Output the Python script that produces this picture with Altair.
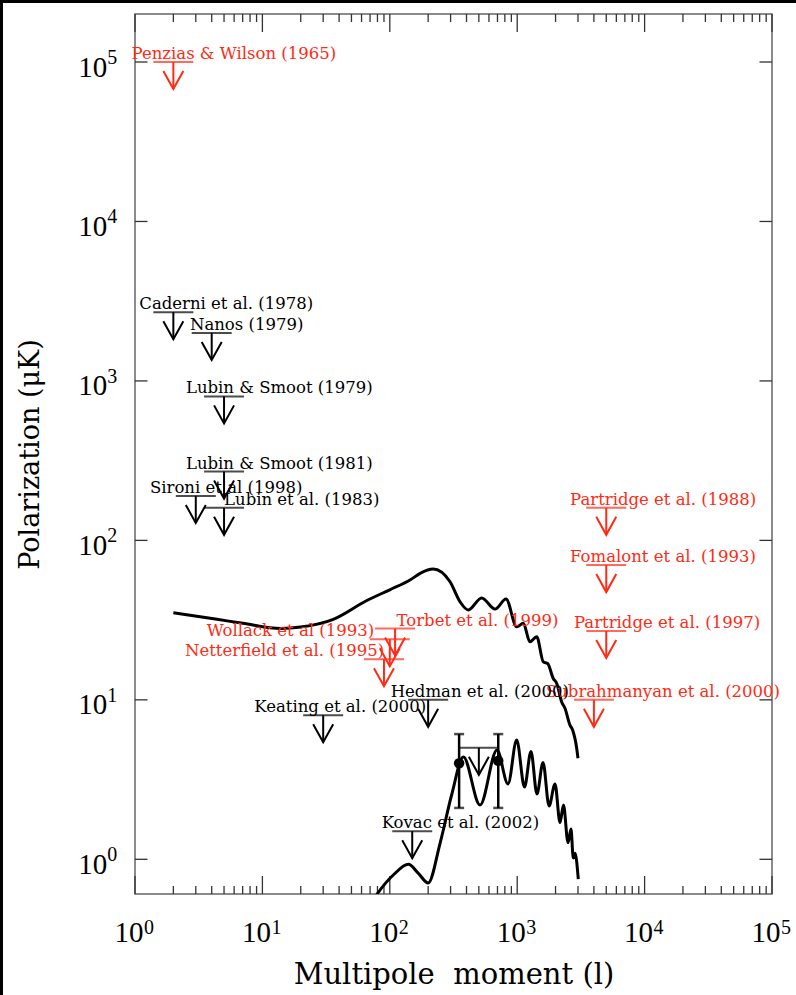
import altair as alt
import pandas as pd

# ---------------- data ----------------
# upper theoretical curve (multipole l, polarization uK)
tt_l = [2, 4.4, 7, 14, 20, 36, 66, 100, 144, 173, 219, 297, 356, 413, 526, 670, 817,
        991, 1117, 1259, 1422, 1603, 1734, 1919, 2042, 2234, 2371, 2595, 2723, 2931, 3000]
tt_v = [35.2, 32.0, 30.2, 28.0, 28.6, 32.0, 42.0, 49.0, 56.4, 62.1, 66.1, 55.0, 41.2, 36.6, 43.6, 37.1, 42.9,
        28.7, 30.2, 23.1, 24.9, 17.3, 16.9, 13.6, 12.7, 9.7, 8.85, 6.95, 6.47, 4.97, 4.3]

# lower theoretical curve
ee_l = [70, 80, 107, 140, 167, 200, 248, 306, 378, 511, 694, 847, 991, 1141, 1283, 1429,
        1595, 1778, 1981, 2168, 2308, 2506, 2644, 2755, 2843, 3017]
ee_v = [0.52, 0.61, 0.80, 0.93, 0.82, 0.71, 1.26, 2.54, 4.38, 2.19, 4.85, 2.97, 5.60, 2.84, 4.74, 2.57,
        4.05, 2.16, 2.97, 1.70, 2.19, 1.27, 1.55, 1.02, 1.09, 0.75]

# upper limits
ul_name = ["Penzias & Wilson (1965)", "Caderni et al. (1978)", "Nanos (1979)", "Lubin & Smoot (1979)",
           "Lubin & Smoot (1981)", "Sironi et al (1998)", "Lubin et al. (1983)", "Partridge et al. (1988)",
           "Fomalont et al. (1993)", "Partridge et al. (1997)", "Subrahmanyan et al. (2000)",
           "Torbet et al. (1999)", "Wollack et al (1993)", "Netterfield et al. (1995)",
           "Keating et al. (2000)", "Hedman et al. (2000)", "Kovac et al. (2002)", ""]
ul_l = [2, 2, 4, 5, 5, 3, 5, 5000, 5000, 5000, 4000, 110, 100, 90, 30, 200, 150, 500]
ul_v = [1e5, 2700, 2000, 800, 270, 190, 160, 160, 70, 27, 10, 28, 24, 18, 8, 10, 1.5, 5]
ul_label_l = [0.94, 1.08, 2.70, 2.51, 2.51, 1.31, 5.0, 2600, 2600, 2790, 1680, 113, 3.65, 2.47,
              8.64, 101.6, 86.4, 500]
ul_kind = ["red", "black", "black", "black", "black", "black", "black", "red", "red", "red", "red",
           "red", "red", "red", "black", "black", "black", "black"]

# detections (Kovac et al. 2002)
det_l = [350, 710]
det_v = [4.0, 4.15]
det_lo = [2.1, 2.1]
det_hi = [6.1, 6.1]

# axis ticks and tick-label exponents
decades = [1, 10, 100, 1000, 10000, 100000]
exponents = ["0", "1", "2", "3", "4", "5"]
minor_x = [m * d for d in [1, 10, 100, 1000, 10000] for m in range(2, 10)]

# ---------------- chart ----------------
W, H = 637, 880
RED = "#ff2b14"
SERIF = "DejaVu Serif"
NUMF = "Liberation Serif"
xs = alt.Scale(type="log", domain=[1, 100000], nice=False)
ys = alt.Scale(type="log", domain=[0.606, 2.0e5], nice=False)
kind_color = alt.Color("kind:N", scale=alt.Scale(domain=["red", "black"], range=[RED, "black"]), legend=None)

x_axis = alt.Axis(values=decades, labelExpr="'10'", title="Multipole\u00a0 moment (l)",
                  ticks=False, domain=False, grid=False, labelFont=NUMF, labelFontSize=29,
                  labelBaseline="alphabetic", labelPadding=47.5, labelOffset=-6.5,
                  labelColor="black", labelFlush=False, labelOverlap=False,
                  titleFont=SERIF, titleFontSize=29, titleFontWeight="normal", titleColor="black",
                  titleBaseline="alphabetic", titleX=W / 2, titleY=89)
y_axis = alt.Axis(values=decades, labelExpr="'10'", title="Polarization (\u03bcK)",
                  ticks=False, domain=False, grid=False, labelFont=NUMF, labelFontSize=29,
                  labelAlign="right", labelBaseline="alphabetic", labelPadding=28.3, labelOffset=14,
                  labelColor="black", labelFlush=False, labelOverlap=False,
                  titleFont=SERIF, titleFontSize=27, titleFontWeight="normal", titleColor="black",
                  titleBaseline="alphabetic", titleX=-96.5, titleY=H / 2)

one = pd.DataFrame({"a": [0]})
tt = pd.DataFrame({"l": tt_l, "v": tt_v})
ee = pd.DataFrame({"l": ee_l, "v": ee_v})
ul = pd.DataFrame({"name": ul_name, "l": ul_l, "v": ul_v, "lab": ul_label_l, "kind": ul_kind})
det = pd.DataFrame({"l": det_l, "v": det_v, "lo": det_lo, "hi": det_hi})
dec = pd.DataFrame({"t": decades, "e": exponents})
mnx = pd.DataFrame({"t": minor_x})

TICKC = "#333333"


def xq(field):
    return alt.X(field, type="quantitative", scale=xs, axis=x_axis)


def yq(field):
    return alt.Y(field, type="quantitative", scale=ys, axis=y_axis)


# black strips at top and left edges of the picture
strip_top = alt.Chart(one).mark_rect(color="black").encode(
    x=alt.value(-135), x2=alt.value(W + 24), y=alt.value(-14), y2=alt.value(-11))
strip_left = alt.Chart(one).mark_rect(color="black").encode(
    x=alt.value(-135), x2=alt.value(-132), y=alt.value(-14), y2=alt.value(H + 101))

# curves
tt_line = alt.Chart(tt).mark_line(color="black", strokeWidth=3, clip=True, interpolate="monotone").encode(
    x=xq("l"), y=yq("v"))
ee_line = alt.Chart(ee).mark_line(color="black", strokeWidth=3, clip=True, interpolate="monotone").encode(
    x=xq("l"), y=yq("v"))


# inward ticks
def xticks(df, y0, y1):
    return alt.Chart(df).mark_rule(color=TICKC, strokeWidth=1.3).encode(
        x=xq("t"), y=alt.value(y0), y2=alt.value(y1))


def yticks(df, x0, x1):
    return alt.Chart(df).mark_rule(color=TICKC, strokeWidth=1.3).encode(
        y=yq("t"), x=alt.value(x0), x2=alt.value(x1))


ticks = [xticks(dec, H, H - 18), xticks(mnx, H, H - 8), xticks(dec, 0, 18), xticks(mnx, 0, 8),
         yticks(dec, 0, 12.5), yticks(dec, W, W - 12.5)]

# superscript exponents of the tick labels
x_exp = alt.Chart(dec).mark_text(align="left", baseline="alphabetic", dx=9, font=NUMF, fontSize=20,
                                 color="black").encode(x=xq("t"), y=alt.value(H + 40), text="e:N")
y_exp = alt.Chart(dec).mark_text(align="left", baseline="alphabetic", dy=2, font=NUMF, fontSize=20,
                                 color="black").encode(y=yq("t"), x=alt.value(-27.7), text="e:N")

bars = alt.Chart(ul).mark_tick(orient="horizontal", size=40, thickness=2).encode(
    x=xq("l"), y=yq("v"), color=kind_color)
shafts = alt.Chart(ul).mark_rule(strokeWidth=2, y2Offset=27).encode(
    x=xq("l"), y=yq("v"), y2=alt.Y2("v:Q"), color=kind_color)
heads = alt.Chart(ul).mark_point(shape="M-1,-1.8L0,0L1,-1.8", size=400, filled=False, strokeWidth=2,
                                 opacity=1, yOffset=27).encode(x=xq("l"), y=yq("v"), color=kind_color)
labels = alt.Chart(ul).transform_filter("datum.name != ''").mark_text(
    align="left", baseline="alphabetic", dy=-3, font=SERIF, fontSize=16.5).encode(
    x=xq("lab"), y=yq("v"), text="name:N", color=kind_color)

err = alt.Chart(det).mark_rule(color="black", strokeWidth=2.5).encode(
    x=xq("l"), y=yq("lo"), y2="hi:Q")
cap_lo = alt.Chart(det).mark_tick(orient="horizontal", size=10, thickness=2.5, color="black").encode(
    x=xq("l"), y=yq("lo"))
cap_hi = alt.Chart(det).mark_tick(orient="horizontal", size=10, thickness=2.5, color="black").encode(
    x=xq("l"), y=yq("hi"))
dots = alt.Chart(det).mark_circle(color="black", size=110, opacity=1).encode(x=xq("l"), y=yq("v"))

chart = alt.layer(
    tt_line, strip_top, strip_left, *ticks, x_exp, y_exp, ee_line, labels, bars, shafts, heads,
    err, cap_lo, cap_hi, dots
).properties(
    width=W, height=H, autosize=alt.AutoSizeParams(type="none"),
    padding={"left": 135, "top": 14, "right": 24, "bottom": 101},
    background="white"
).configure_view(stroke="#666666", strokeWidth=1.5)

chart.save("out.html", embed_options={"renderer": "svg", "actions": False})
